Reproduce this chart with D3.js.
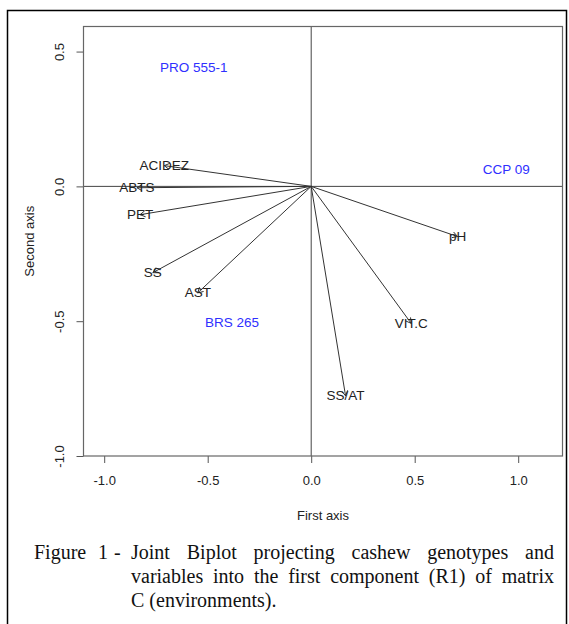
<!DOCTYPE html>
<html>
<head>
<meta charset="utf-8">
<script src="https://cdn.jsdelivr.net/npm/d3@7"></script>
<style>
  html, body { margin: 0; padding: 0; background: #fff; }
  svg { display: block; }
</style>
</head>
<body>
<svg id="chart" width="569" height="624"></svg>
<script>
// ---- data ----
const variables = ["ACIDEZ", "ABTS", "PET", "SS", "AST", "pH", "VIT.C", "SS/AT"];
const varX = [-0.71, -0.842, -0.827, -0.765, -0.548, 0.707, 0.483, 0.166];
const varY = [0.077, -0.005, -0.105, -0.32, -0.395, -0.186, -0.508, -0.777];

const genotypes = ["PRO 555-1", "CCP 09", "BRS 265"];
const genX = [-0.567, 0.942, -0.382];
const genY = [0.44, 0.062, -0.505];

const xTicks = [-1.0, -0.5, 0.0, 0.5, 1.0];
const yTicks = [-1.0, -0.5, 0.0, 0.5];

const xTitle = "First axis";
const yTitle = "Second axis";
const captionLines = [
  "Joint Biplot projecting cashew genotypes and",
  "variables into the first component (R1) of matrix",
  "C (environments)."
];
const captionLead = ["Figure", "1", "-"];

// ---- layout ----
const svg = d3.select("#chart");
const plot = { left: 83.5, top: 26.5, right: 562.5, bottom: 456 };

const x = d3.scaleLinear().domain([-1.1, 1.214]).range([plot.left, plot.right]);
const y = d3.scaleLinear().domain([-1.0, 0.593]).range([plot.bottom, plot.top]);

const sans = "'Liberation Sans', Arial, Helvetica, sans-serif";
const serif = "'Liberation Serif', 'Times New Roman', serif";
const fmt = d => d.toFixed(1);

// outer frame
svg.append("rect")
  .attr("x", 7.5).attr("y", 10.5)
  .attr("width", 559).attr("height", 620)
  .attr("fill", "none").attr("stroke", "#000").attr("stroke-width", 1.5);

// reference lines through origin
svg.append("line")
  .attr("x1", plot.left).attr("x2", plot.right)
  .attr("y1", y(0)).attr("y2", y(0))
  .attr("stroke", "#444").attr("stroke-width", 1);
svg.append("line")
  .attr("x1", x(0)).attr("x2", x(0))
  .attr("y1", plot.top).attr("y2", plot.bottom)
  .attr("stroke", "#444").attr("stroke-width", 1);

// axes
const xAxis = d3.axisBottom(x).tickValues(xTicks).tickFormat(fmt).tickSize(7).tickPadding(13);
const gx = svg.append("g").attr("transform", `translate(0,${plot.bottom})`).call(xAxis);
gx.select(".domain").remove();
gx.selectAll(".tick line").attr("stroke", "#555");
gx.selectAll(".tick text").attr("fill", "#222").style("font-family", sans).style("font-size", "13px");

const yAxis = d3.axisLeft(y).tickValues(yTicks).tickFormat(fmt).tickSize(7);
const gy = svg.append("g").attr("transform", `translate(${plot.left},0)`).call(yAxis);
gy.select(".domain").remove();
gy.selectAll(".tick line").attr("stroke", "#555");
gy.selectAll(".tick text")
  .attr("x", null).attr("dy", null)
  .attr("transform", "translate(-24,0) rotate(-90)")
  .attr("text-anchor", "middle")
  .attr("dominant-baseline", "central")
  .attr("fill", "#222")
  .style("font-family", sans).style("font-size", "13px");

// plot box
svg.append("rect")
  .attr("x", plot.left).attr("y", plot.top)
  .attr("width", plot.right - plot.left).attr("height", plot.bottom - plot.top)
  .attr("fill", "none").attr("stroke", "#666").attr("stroke-width", 1.2);

// axis titles
svg.append("text")
  .attr("x", (plot.left + plot.right) / 2).attr("y", 515)
  .attr("text-anchor", "middle").attr("dominant-baseline", "central")
  .style("font-family", sans).style("font-size", "13px").attr("fill", "#222")
  .text(xTitle);
svg.append("text")
  .attr("transform", `translate(29,${(plot.top + plot.bottom) / 2}) rotate(-90)`)
  .attr("text-anchor", "middle").attr("dominant-baseline", "central")
  .style("font-family", sans).style("font-size", "13px").attr("fill", "#222")
  .text(yTitle);

// variable arrows
const vars = variables.map((n, i) => ({ name: n, x: varX[i], y: varY[i] }));
const arrowG = svg.append("g");
const headLen = 6, headAng = Math.PI / 6;
vars.forEach(d => {
  const x0 = x(0), y0 = y(0), x1 = x(d.x), y1 = y(d.y);
  arrowG.append("line")
    .attr("x1", x0).attr("y1", y0).attr("x2", x1).attr("y2", y1)
    .attr("stroke", "#333").attr("stroke-width", 1);
  const ang = Math.atan2(y1 - y0, x1 - x0);
  const p = d3.path();
  p.moveTo(x1 - headLen * Math.cos(ang - headAng), y1 - headLen * Math.sin(ang - headAng));
  p.lineTo(x1, y1);
  p.lineTo(x1 - headLen * Math.cos(ang + headAng), y1 - headLen * Math.sin(ang + headAng));
  arrowG.append("path").attr("d", p.toString())
    .attr("fill", "none").attr("stroke", "#333").attr("stroke-width", 1);
});
svg.append("g").selectAll("text").data(vars).join("text")
  .attr("x", d => x(d.x)).attr("y", d => y(d.y))
  .attr("text-anchor", "middle").attr("dominant-baseline", "central")
  .style("font-family", sans).style("font-size", "13.5px").attr("fill", "#222")
  .text(d => d.name);

// genotype labels
const gens = genotypes.map((n, i) => ({ name: n, x: genX[i], y: genY[i] }));
svg.append("g").selectAll("text").data(gens).join("text")
  .attr("x", d => x(d.x)).attr("y", d => y(d.y))
  .attr("text-anchor", "middle").attr("dominant-baseline", "central")
  .style("font-family", sans).style("font-size", "13.5px").attr("fill", "#2f2fff")
  .text(d => d.name);

// caption (justified)
const capG = svg.append("g").style("font-family", serif).style("font-size", "20px").attr("fill", "#111");
const capLeft = 34, indent = 131, capRight = 554;
const baselines = [559, 583, 607];
const leadX = [capLeft, 98, 114];
captionLead.forEach((w, i) => capG.append("text").attr("x", leadX[i]).attr("y", baselines[0]).text(w));

captionLines.forEach((line, li) => {
  const words = line.split(" ");
  const justify = li < captionLines.length - 1;
  const nodes = words.map(w => capG.append("text").attr("y", baselines[li]).text(w));
  const widths = nodes.map(n => n.node().getComputedTextLength());
  const total = d3.sum(widths);
  const gap = justify ? (capRight - indent - total) / (words.length - 1) : 5;
  let cx = indent;
  nodes.forEach((n, i) => { n.attr("x", cx); cx += widths[i] + gap; });
});
</script>
</body>
</html>
